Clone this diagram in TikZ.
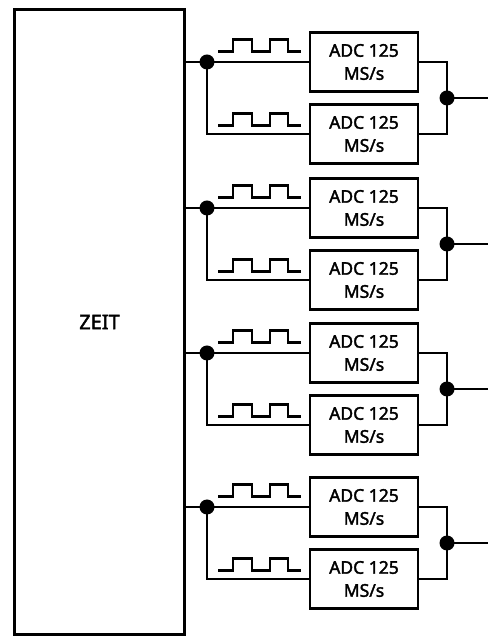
\documentclass[tikz,border=0pt]{standalone}
\usepackage{fontspec}
\setmainfont{Noto Sans}
\newfontfamily\medfont{Noto Sans}[FakeBold=2]
\usetikzlibrary{positioning}

\begin{document}
\begin{tikzpicture}[x=1pt,y=1pt]
      \tikzstyle{wire}=[line width=2.9pt]
      \tikzstyle{adc}=[rectangle,draw=black,line width=2.9pt,minimum width=108pt,minimum height=59pt,inner sep=0pt,align=center,font=\medfont\fontsize{17.5}{23}\selectfont]
      \tikzstyle{dot}=[circle,fill=black,minimum size=15pt,inner sep=0pt]
      \tikzstyle{unit}=[rectangle,draw=black,line width=3.8pt,minimum width=170pt,minimum height=625pt,font=\medfont\fontsize{20}{24}\selectfont]

      \useasboundingbox (0,0) rectangle (488,637);

      \node[unit](zeit) at (99.5,315){ZEIT};

      \begin{scope}[yshift=575pt]
        \node[dot](jl) at (207,0){};
        \node[adc](adcA) at (364,0){ADC 125\\MS/s};
        \node[adc](adcB) at (364,-72){ADC 125\\MS/s};
        \node[dot](jr) at (447,-36){};
        \coordinate (out) at (488,-36);

        \draw[wire] (zeit.east |- jl) -- (adcA.west);
        \draw[wire] (jl.center) |- (adcB.west);
        \draw[wire] (adcA.east) -| (jr.center) |- (adcB.east);
        \draw[wire] (jr.center) -- (out);

        \draw[wire] (218,10.5) -- ++(15,0) -- ++(0,12) -- ++(19,0) -- ++(0,-12) -- ++(18,0) -- ++(0,12) -- ++(18,0) -- ++(0,-12) -- ++(13,0);
        \draw[wire] (218,-63.5) -- ++(15,0) -- ++(0,12) -- ++(19,0) -- ++(0,-12) -- ++(18,0) -- ++(0,12) -- ++(18,0) -- ++(0,-12) -- ++(13,0);
      \end{scope}

      \begin{scope}[yshift=429pt]
        \node[dot](jl) at (207,0){};
        \node[adc](adcA) at (364,0){ADC 125\\MS/s};
        \node[adc](adcB) at (364,-72){ADC 125\\MS/s};
        \node[dot](jr) at (447,-36){};
        \coordinate (out) at (488,-36);

        \draw[wire] (zeit.east |- jl) -- (adcA.west);
        \draw[wire] (jl.center) |- (adcB.west);
        \draw[wire] (adcA.east) -| (jr.center) |- (adcB.east);
        \draw[wire] (jr.center) -- (out);

        \draw[wire] (218,10.5) -- ++(15,0) -- ++(0,12) -- ++(19,0) -- ++(0,-12) -- ++(18,0) -- ++(0,12) -- ++(18,0) -- ++(0,-12) -- ++(13,0);
        \draw[wire] (218,-63.5) -- ++(15,0) -- ++(0,12) -- ++(19,0) -- ++(0,-12) -- ++(18,0) -- ++(0,12) -- ++(18,0) -- ++(0,-12) -- ++(13,0);
      \end{scope}

      \begin{scope}[yshift=284pt]
        \node[dot](jl) at (207,0){};
        \node[adc](adcA) at (364,0){ADC 125\\MS/s};
        \node[adc](adcB) at (364,-72){ADC 125\\MS/s};
        \node[dot](jr) at (447,-36){};
        \coordinate (out) at (488,-36);

        \draw[wire] (zeit.east |- jl) -- (adcA.west);
        \draw[wire] (jl.center) |- (adcB.west);
        \draw[wire] (adcA.east) -| (jr.center) |- (adcB.east);
        \draw[wire] (jr.center) -- (out);

        \draw[wire] (218,10.5) -- ++(15,0) -- ++(0,12) -- ++(19,0) -- ++(0,-12) -- ++(18,0) -- ++(0,12) -- ++(18,0) -- ++(0,-12) -- ++(13,0);
        \draw[wire] (218,-63.5) -- ++(15,0) -- ++(0,12) -- ++(19,0) -- ++(0,-12) -- ++(18,0) -- ++(0,12) -- ++(18,0) -- ++(0,-12) -- ++(13,0);
      \end{scope}

      \begin{scope}[yshift=130pt]
        \node[dot](jl) at (207,0){};
        \node[adc](adcA) at (364,0){ADC 125\\MS/s};
        \node[adc](adcB) at (364,-72){ADC 125\\MS/s};
        \node[dot](jr) at (447,-36){};
        \coordinate (out) at (488,-36);

        \draw[wire] (zeit.east |- jl) -- (adcA.west);
        \draw[wire] (jl.center) |- (adcB.west);
        \draw[wire] (adcA.east) -| (jr.center) |- (adcB.east);
        \draw[wire] (jr.center) -- (out);

        \draw[wire] (218,10.5) -- ++(15,0) -- ++(0,12) -- ++(19,0) -- ++(0,-12) -- ++(18,0) -- ++(0,12) -- ++(18,0) -- ++(0,-12) -- ++(13,0);
        \draw[wire] (218,-63.5) -- ++(15,0) -- ++(0,12) -- ++(19,0) -- ++(0,-12) -- ++(18,0) -- ++(0,12) -- ++(18,0) -- ++(0,-12) -- ++(13,0);
      \end{scope}
    \end{tikzpicture}
\end{document}
